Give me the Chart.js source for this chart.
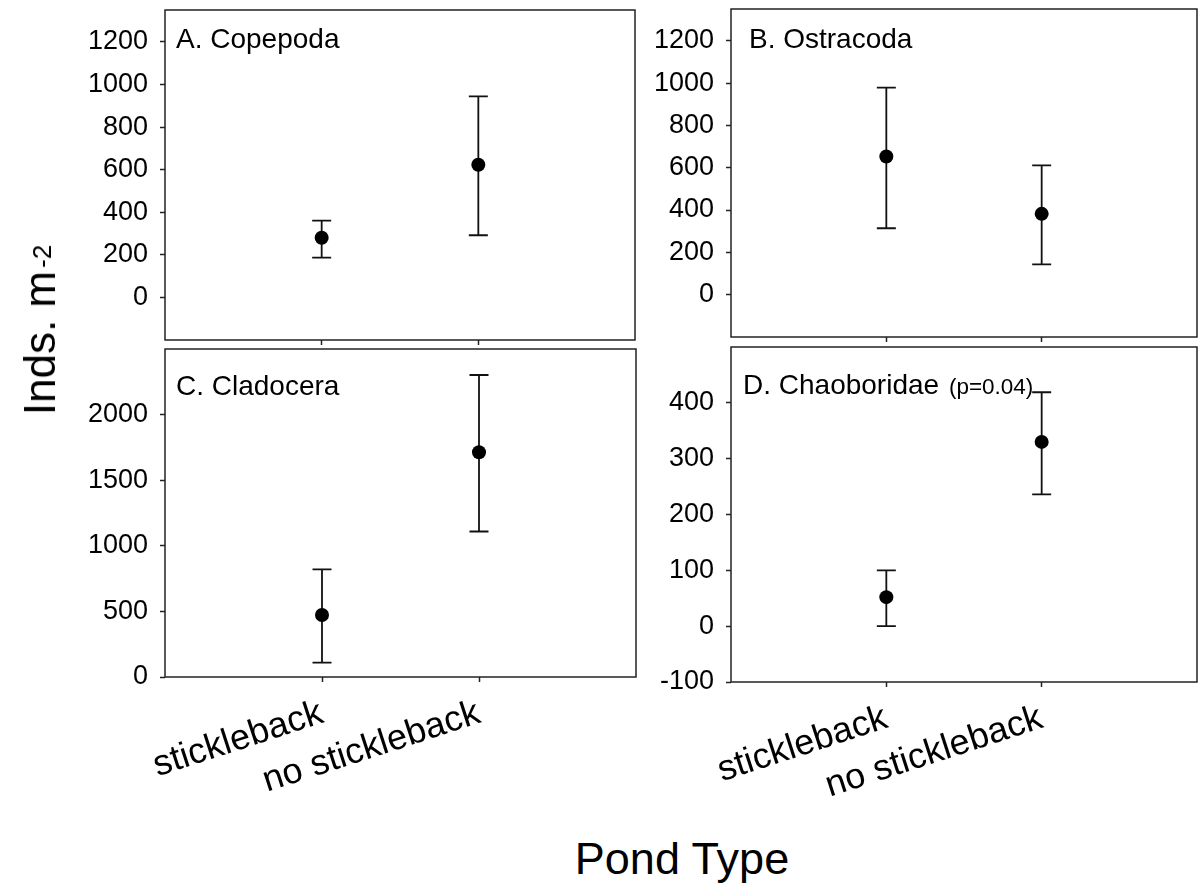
<!DOCTYPE html>
<html>
<head>
<meta charset="utf-8">
<title>Invertebrate density by pond type</title>
<script src="https://cdn.jsdelivr.net/npm/chart.js@4.4.0/dist/chart.umd.min.js"></script>
<style>
  body { margin: 0; background: #fff; }
  #page { position: relative; width: 1204px; height: 886px; overflow: hidden;
          font-family: 'Liberation Sans', Arial, sans-serif; color: #000; }
  canvas { position: absolute; }
  .ytitle { position: absolute; left: 40px; top: 330px; font-size: 44px; line-height: 1;
            white-space: nowrap; transform: translate(-50%, -50%) rotate(-90deg); }
  .ytitle span { font-size: 26px; position: relative; top: -4px; margin-left: 3px; }
  .xtitle { position: absolute; left: 682px; top: 836px; font-size: 45px; line-height: 1;
            white-space: nowrap; transform: translateX(-50%); }
</style>
</head>
<body>
<div id="page">
  <canvas id="chartA" width="590" height="350" style="left:60px;top:0px"></canvas>
  <canvas id="chartB" width="584" height="350" style="left:620px;top:0px"></canvas>
  <canvas id="chartC" width="590" height="480" style="left:60px;top:340px"></canvas>
  <canvas id="chartD" width="584" height="480" style="left:620px;top:340px"></canvas>
  <div class="ytitle">Inds. m<span>-2</span></div>
  <div class="xtitle">Pond Type</div>
</div>
<script>
const groups = ['stickleback', 'no stickleback'];

// mean and error bar ends, inds. per m2
const copepodaMean = [280, 623];
const copepodaHigh = [361, 944];
const copepodaLow = [187, 292];
const copepodaTicks = [0, 200, 400, 600, 800, 1000, 1200];

const ostracodaMean = [653, 382];
const ostracodaHigh = [978, 611];
const ostracodaLow = [314, 143];
const ostracodaTicks = [0, 200, 400, 600, 800, 1000, 1200];

const cladoceraMean = [472, 1713];
const cladoceraHigh = [820, 2302];
const cladoceraLow = [109, 1109];
const cladoceraTicks = [0, 500, 1000, 1500, 2000];

const chaoboridaeMean = [52, 330];
const chaoboridaeHigh = [100, 419];
const chaoboridaeLow = [0, 236];
const chaoboridaeTicks = [-100, 0, 100, 200, 300, 400];

const FONT = "'Liberation Sans', Arial, sans-serif";
const LINE = '#222';

const panels = [
    {id: 'chartA', title: 'A. Copepoda', mean: copepodaMean, high: copepodaHigh, low: copepodaLow,
     ticks: copepodaTicks, min: -200, max: 1350, labels: false,
     axisW: 105, axisH: 10, pad: {top: 10, right: 15}, tx: 11, ty: 38},
    {id: 'chartB', title: 'B. Ostracoda', mean: ostracodaMean, high: ostracodaHigh, low: ostracodaLow,
     ticks: ostracodaTicks, min: -200, max: 1350, labels: false,
     axisW: 111, axisH: 13, pad: {top: 9, right: 2}, tx: 18, ty: 39},
    {id: 'chartC', title: 'C. Cladocera', mean: cladoceraMean, high: cladoceraHigh, low: cladoceraLow,
     ticks: cladoceraTicks, min: 0, max: 2500, labels: true,
     axisW: 105, axisH: 143, pad: {top: 9, right: 14}, tx: 11, ty: 46},
    {id: 'chartD', title: 'D. Chaoboridae', note: '(p=0.04)', mean: chaoboridaeMean, high: chaoboridaeHigh,
     low: chaoboridaeLow, ticks: chaoboridaeTicks, min: -100, max: 500, labels: true,
     axisW: 111, axisH: 138, pad: {top: 7, right: 2}, tx: 12, ty: 47}
];

// vertical bars with caps, drawn under the points
function errorBars(high, low) {
    return {
        id: 'errorBars',
        beforeDatasetsDraw(chart) {
            const {ctx, scales: {x, y}} = chart;
            ctx.save();
            ctx.strokeStyle = '#111';
            ctx.lineWidth = 1.8;
            low.forEach((lo, i) => {
                const px = x.getPixelForValue(i + 1);
                const top = y.getPixelForValue(high[i]);
                const bot = y.getPixelForValue(lo);
                ctx.beginPath();
                ctx.moveTo(px, top); ctx.lineTo(px, bot);
                ctx.moveTo(px - 9.5, top); ctx.lineTo(px + 9.5, top);
                ctx.moveTo(px - 9.5, bot); ctx.lineTo(px + 9.5, bot);
                ctx.stroke();
            });
            ctx.restore();
        }
    };
}

// frame around the plot area plus the panel heading
function frameAndTitle(p) {
    return {
        id: 'frameAndTitle',
        afterDraw(chart) {
            const {ctx, chartArea: a} = chart;
            ctx.save();
            ctx.strokeStyle = LINE;
            ctx.lineWidth = 1.5;
            ctx.strokeRect(a.left, a.top, a.right - a.left, a.bottom - a.top);
            ctx.fillStyle = '#000';
            ctx.textBaseline = 'alphabetic';
            ctx.font = '28px ' + FONT;
            ctx.fillText(p.title, a.left + p.tx, a.top + p.ty);
            if (p.note) {
                const w = ctx.measureText(p.title + ' ').width;
                ctx.font = '22.5px ' + FONT;
                ctx.fillText(p.note, a.left + p.tx + w + 2, a.top + p.ty);
            }
            ctx.restore();
        }
    };
}

function makePanel(p) {
    const ctx = document.getElementById(p.id).getContext('2d');
    return new Chart(ctx, {
        type: 'scatter',
        data: {
            datasets: [{
                data: p.mean.map((m, i) => ({x: i + 1, y: m})),
                pointRadius: 7,
                pointBackgroundColor: '#000',
                pointBorderWidth: 0,
                showLine: false
            }]
        },
        options: {
            responsive: false,
            animation: false,
            events: [],
            layout: {padding: {left: 0, bottom: 0, top: p.pad.top, right: p.pad.right}},
            plugins: {legend: {display: false}, tooltip: {enabled: false}},
            scales: {
                x: {
                    type: 'linear',
                    min: 0,
                    max: 3,
                    afterBuildTicks: s => { s.ticks = [{value: 1}, {value: 2}]; },
                    afterFit: s => { s.height = p.axisH; s.paddingLeft = 0; s.paddingRight = 0; },
                    border: {display: false},
                    grid: {drawOnChartArea: false, tickLength: 5, tickColor: LINE, tickWidth: 1.5},
                    ticks: {
                        display: p.labels,
                        autoSkip: false,
                        minRotation: 18,
                        maxRotation: 18,
                        padding: 10,
                        color: '#000',
                        font: {family: FONT, size: 36},
                        callback: v => groups[v - 1]
                    }
                },
                y: {
                    min: p.min,
                    max: p.max,
                    afterBuildTicks: s => { s.ticks = p.ticks.map(v => ({value: v})); },
                    afterFit: s => { s.width = p.axisW; s.paddingTop = 0; s.paddingBottom = 0; },
                    border: {display: false},
                    grid: {drawOnChartArea: false, tickLength: 5, tickColor: LINE, tickWidth: 1.5},
                    ticks: {
                        padding: 12,
                        color: '#000',
                        font: {family: FONT, size: 27},
                        callback: v => String(v)
                    }
                }
            }
        },
        plugins: [errorBars(p.high, p.low), frameAndTitle(p)]
    });
}

panels.forEach(makePanel);
</script>
</body>
</html>
